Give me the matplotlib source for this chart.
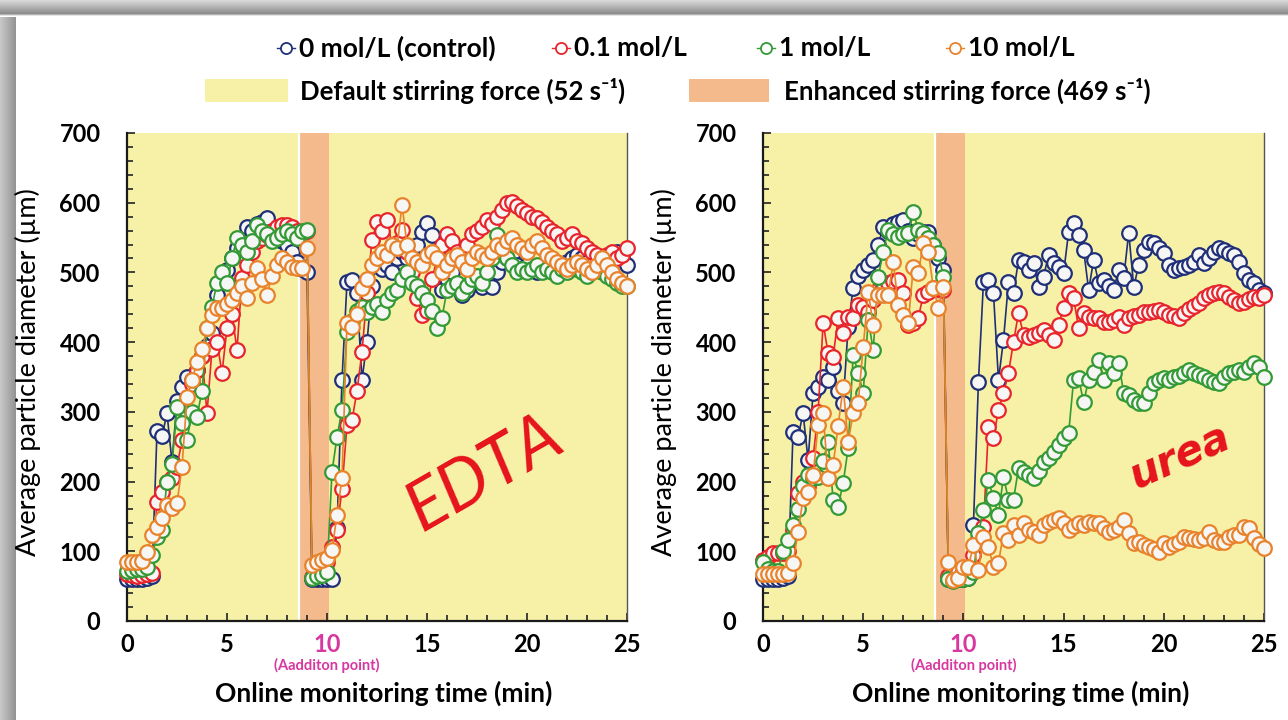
import numpy as np
import matplotlib
matplotlib.use("Agg")
import matplotlib.pyplot as plt
from matplotlib.lines import Line2D
from matplotlib.patches import Rectangle
from matplotlib.ticker import MultipleLocator

plt.rcParams['font.family'] = ['Lato', 'DejaVu Sans']

# ---------------------------------------------------------------- data
# online readings, one every 15 s (minutes)
time_min = np.arange(0, 25.001, 0.25)

series_labels = ["0 mol/L (control)", "0.1 mol/L", "1 mol/L", "10 mol/L"]
series_colors = ["#1f2f78", "#e8242c", "#339a35", "#e8832c"]

# EDTA addition: average particle diameter (µm)
edta_control = [
    60, 60, 60, 60, 62, 64, 272, 265,
    298, 228, 315, 335, 350, 345, 360, 380,
    395, 413, 468, 490, 503, 520, 535, 550,
    565, 560, 570, 572, 578, 560, 550, 545,
    540, 530, 515, 505, 500, 60, 60, 60,
    60, 60, 133, 346, 486, 489, 470, 346,
    400, 480, 515, 505, 510, 500, 520, 530,
    520, 525, 540, 558, 571, 554, 530, 475,
    490, 500, 480, 468, 475, 485, 492, 479,
    492, 479, 500, 515, 520, 525, 510, 505,
    510, 505, 500, 505, 510, 515, 505, 510,
    515, 520, 525, 520, 515, 510, 505, 510,
    520, 525, 530, 520, 510]
edta_01 = [
    68, 66, 65, 66, 67, 69, 170, 185,
    200, 205, 221, 260, 300, 340, 360, 380,
    298, 390, 400, 356, 420, 440, 389, 492,
    510, 530, 545, 550, 554, 560, 565, 568,
    568, 565, 560, 555, 560, 63, 80, 82,
    85, 106, 130, 190, 281, 288, 330, 386,
    470, 547, 572, 560, 575, 540, 542, 561,
    530, 500, 463, 439, 445, 490, 520, 540,
    555, 545, 530, 525, 540, 555, 560, 565,
    575, 570, 580, 590, 600, 601, 595, 590,
    585, 580, 578, 572, 565, 560, 555, 545,
    550, 555, 545, 542, 535, 530, 525, 520,
    525, 530, 520, 525, 535]
edta_1 = [
    72, 73, 74, 75, 78, 95, 120, 131,
    200, 225, 307, 284, 260, 300, 293, 330,
    420, 451, 485, 500, 485, 520, 550, 540,
    529, 545, 568, 560, 555, 545, 550, 555,
    560, 555, 550, 560, 561, 62, 64, 66,
    70, 214, 264, 303, 415, 430, 445, 450,
    443, 450, 455, 443, 460, 470, 475, 490,
    500, 485, 480, 470, 460, 445, 420, 435,
    475, 480, 485, 470, 480, 490, 495, 485,
    500, 520, 554, 530, 520, 510, 500, 505,
    500, 505, 510, 500, 505, 500, 495, 505,
    500, 510, 505, 500, 495, 500, 505, 500,
    495, 490, 485, 480, 480]
edta_10 = [
    85, 84, 84, 86, 99, 123, 135, 148,
    166, 162, 169, 221, 321, 345, 371, 390,
    420, 439, 449, 449, 455, 460, 470, 480,
    463, 485, 506, 490, 468, 495, 510, 521,
    515, 508, 506, 506, 535, 80, 85, 88,
    90, 102, 152, 205, 427, 422, 440, 478,
    490, 510, 520, 530, 525, 540, 535, 597,
    540, 520, 515, 510, 525, 530, 520, 500,
    510, 520, 525, 515, 505, 520, 530, 525,
    520, 530, 540, 535, 545, 550, 540, 535,
    530, 540, 545, 535, 525, 520, 515, 510,
    505, 510, 515, 510, 505, 500, 510, 520,
    510, 500, 490, 485, 480]

# urea addition: average particle diameter (µm)
urea_control = [
    60, 60, 60, 60, 62, 65, 271, 264,
    298, 231, 327, 336, 350, 345, 365, 330,
    313, 422, 478, 495, 504, 510, 518, 540,
    565, 560, 570, 572, 575, 560, 550, 555,
    558, 558, 540, 520, 504, 60, 60, 60,
    60, 62, 138, 343, 486, 489, 470, 346,
    403, 486, 470, 518, 515, 504, 513, 479,
    494, 525, 513, 508, 499, 558, 571, 554,
    532, 475, 518, 485, 489, 480, 475, 504,
    492, 557, 479, 511, 532, 544, 542, 535,
    528, 511, 504, 506, 508, 511, 515, 525,
    513, 520, 530, 535, 532, 528, 525, 515,
    499, 489, 485, 475, 470]
urea_01 = [
    87, 92, 97, 97, 97, 100, 130, 184,
    200, 193, 234, 300, 427, 384, 379, 435,
    413, 436, 435, 453, 450, 443, 460, 475,
    480, 485, 487, 489, 470, 425, 428, 435,
    468, 472, 478, 476, 475, 65, 68, 70,
    72, 78, 95, 118, 135, 278, 262, 303,
    327, 356, 400, 442, 410, 408, 410, 413,
    417, 410, 403, 425, 449, 470, 463, 420,
    442, 436, 435, 435, 429, 429, 432, 436,
    425, 435, 437, 439, 443, 443, 445, 446,
    443, 439, 437, 435, 442, 448, 452, 456,
    463, 468, 470, 472, 470, 465, 460, 456,
    458, 462, 465, 463, 468]
urea_1 = [
    85, 75, 72, 72, 100, 116, 138, 160,
    193, 209, 205, 207, 230, 257, 174, 164,
    198, 248, 381, 356, 327, 432, 389, 494,
    530, 561, 555, 551, 555, 557, 587, 561,
    557, 550, 540, 528, 494, 60, 58, 60,
    60, 62, 70, 126, 159, 202, 176, 152,
    207, 174, 174, 219, 214, 209, 205, 215,
    228, 234, 243, 252, 262, 269, 346, 348,
    314, 346, 357, 374, 346, 370, 356, 370,
    327, 324, 317, 313, 313, 327, 341, 345,
    348, 346, 350, 352, 356, 360, 356, 353,
    350, 346, 343, 341, 350, 356, 357, 360,
    357, 364, 370, 365, 350]
urea_10 = [
    68, 68, 67, 67, 68, 69, 83, 128,
    176, 185, 209, 281, 298, 205, 224, 280,
    336, 257, 298, 313, 393, 472, 425, 468,
    468, 468, 515, 453, 439, 428, 508, 499,
    542, 530, 478, 449, 479, 85, 59, 62,
    78, 78, 109, 73, 121, 106, 78, 83,
    126, 116, 138, 123, 141, 131, 127, 123,
    138, 142, 145, 148, 141, 131, 136, 141,
    138, 142, 141, 141, 133, 128, 130, 135,
    145, 126, 112, 113, 109, 106, 103, 99,
    112, 106, 110, 113, 121, 119, 117, 116,
    119, 128, 116, 113, 113, 121, 123, 123,
    135, 133, 119, 110, 104]

# stirring phases (min)
default_phases = [(0.0, 8.6), (10.1, 25.0)]
enhanced_phase = (8.6, 10.1)
addition_time = 10

panels = [
    ("EDTA", [edta_control, edta_01, edta_1, edta_10]),
    ("urea", [urea_control, urea_01, urea_1, urea_10]),
]

# ---------------------------------------------------------------- style
yellow = "#f6f1a6"
peach = "#f4ba8c"
magenta = "#d8379f"
note_red = "#e6141c"
face = "#f6f6f4"

W, H = 1288, 720
fig = plt.figure(figsize=(W / 100, H / 100), dpi=100)
fig.patch.set_facecolor("white")

# shaded frame along the top and left edges
left_band = fig.add_axes([0, 0, 16 / W, 1])
left_band.imshow(np.linspace(0.78, 0.58, 16)[None, :], cmap="gray", vmin=0, vmax=1,
                 aspect="auto", extent=[0, 1, 0, 1])
left_band.axis("off")
top_band = fig.add_axes([0, 1 - 17 / H, 1, 17 / H])
top_band.imshow(np.concatenate([np.linspace(0.85, 0.55, 14), [0.7, 0.9, 1.0]])[:, None],
                cmap="gray", vmin=0, vmax=1, aspect="auto", extent=[0, 1, 0, 1])
top_band.axis("off")

axes_px = [(127, 500), (763, 501)]
top_px, bottom_px = 133, 621

for (x0, wpx), (note, data) in zip(axes_px, panels):
    ax = fig.add_axes([x0 / W, 1 - bottom_px / H, wpx / W, (bottom_px - top_px) / H])
    for a, b in default_phases:
        ax.axvspan(a, b, color=yellow, lw=0, zorder=0)
    ax.axvspan(*enhanced_phase, color=peach, lw=0, zorder=0)
    ax.axvline(enhanced_phase[0], color="white", lw=1.6, zorder=0.5)

    for vals, col in zip(data, series_colors):
        ax.plot(time_min, vals, "-o", color=col, lw=1.2, ms=10.5, mew=1.6,
                mfc=face, mec=col, clip_on=False, zorder=3)

    ax.set_xlim(0, 25)
    ax.set_ylim(0, 700)
    ax.xaxis.set_major_locator(MultipleLocator(5))
    ax.xaxis.set_minor_locator(MultipleLocator(1))
    ax.yaxis.set_major_locator(MultipleLocator(100))
    ax.yaxis.set_minor_locator(MultipleLocator(20))
    ax.tick_params(which="both", direction="in", width=1.2, color="#222222")
    ax.tick_params(which="major", length=6)
    ax.tick_params(which="minor", length=4)
    ax.tick_params(axis="y", which="both", pad=19, labelsize=17)
    ax.tick_params(axis="x", which="both", pad=9, labelsize=17)
    for lab in ax.get_xticklabels() + ax.get_yticklabels():
        lab.set_fontweight("bold")
    for lab, v in zip(ax.get_xticklabels(), ax.get_xticks()):
        if v == addition_time:
            lab.set_color(magenta)

    ax.spines["top"].set_visible(False)
    ax.spines["right"].set_color("#555555")
    ax.spines["right"].set_linewidth(1.0)
    for s in ("left", "bottom"):
        ax.spines[s].set_linewidth(1.6)
        ax.spines[s].set_color("#1a1a1a")

    ax.set_ylabel("Average particle diameter (µm)", fontsize=19.5)
    ax.yaxis.set_label_coords(-0.172, 0.51)
    ax.set_xlabel("Online monitoring time (min)", fontsize=19, fontweight="bold")
    ax.xaxis.set_label_coords(0.514, -0.122)

    ax.text(addition_time, -0.0905, "(Aadditon point)", transform=ax.get_xaxis_transform(),
            ha="center", va="center", color=magenta, fontsize=10.5, fontweight="bold")

    if note == "EDTA":
        ax.text(17.9, 212, note, color=note_red, fontsize=50, style="italic",
                rotation=30, ha="center", va="center")
    else:
        ax.text(20.8, 236, note, color=note_red, fontsize=30, style="italic",
                fontweight="bold", family="DejaVu Sans", rotation=24,
                ha="center", va="center")

# ---------------------------------------------------------------- legend
def fx(px):
    return px / W


def fy(py):
    return 1 - py / H


row1, row2 = 48, 91
for mx, tx, lab, col in zip([286, 561, 766, 955], [299, 574, 779, 968],
                            series_labels, series_colors):
    fig.add_artist(Line2D([fx(mx - 9), fx(mx + 9)], [fy(row1), fy(row1)], color=col,
                          lw=1.0, transform=fig.transFigure))
    fig.add_artist(Line2D([fx(mx)], [fy(row1)], color=col, marker="o", ms=8, mew=1.3,
                          mfc="white", mec=col, transform=fig.transFigure))
    fig.text(fx(tx), fy(row1), lab, fontsize=19, fontweight="bold", va="center", ha="left")

for px0, px1, tx, lab, col in [(205, 288, 300, "Default stirring force (52 s⁻¹)", yellow),
                               (689, 769, 784, "Enhanced stirring force (469 s⁻¹)", peach)]:
    fig.add_artist(Rectangle((fx(px0), fy(102)), fx(px1 - px0), 23 / H, color=col,
                             lw=0, transform=fig.transFigure))
    fig.text(fx(tx), fy(row2), lab, fontsize=18.5, fontweight="bold", va="center", ha="left")

fig.savefig("out.png", dpi=100, facecolor="white")
